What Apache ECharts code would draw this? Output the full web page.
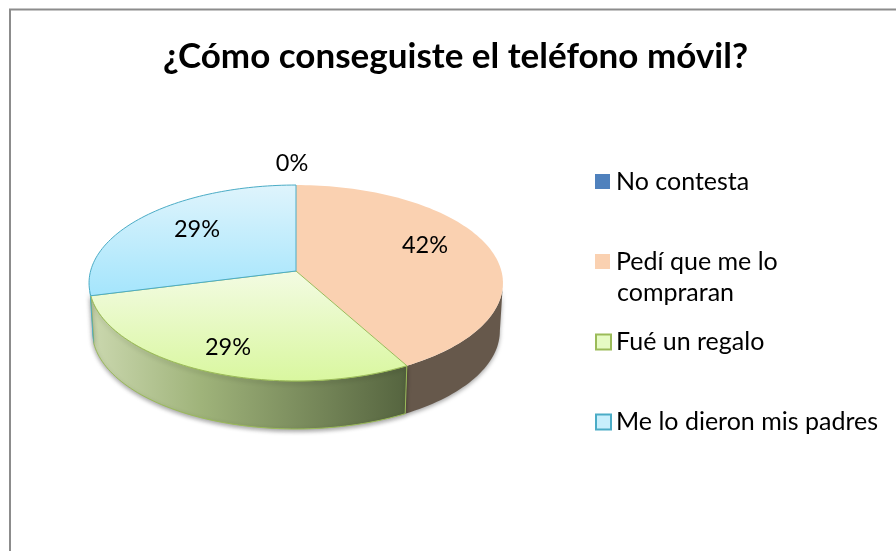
<!DOCTYPE html>
<html>
<head>
<meta charset="utf-8">
<style>html,body{margin:0;padding:0;background:#fff}#c{width:896px;height:551px}</style>
<script src="https://cdn.jsdelivr.net/npm/echarts@6/dist/echarts.min.js"></script>
</head>
<body>
<div id="c"></div>
<script>
// ---- data ----
var titleText = '¿Cómo conseguiste el teléfono móvil?';
var categories = ['No contesta', 'Pedí que me lo compraran', 'Fué un regalo', 'Me lo dieron mis padres'];
var values = [0, 42, 29, 29];
var percentLabels = ['0%', '42%', '29%', '29%'];

// ---- geometry of the tilted disc ----
var APEX = [296, 271], A = 205.4, B = 96.5, K = 0.1224, DEPTH = 48, LOWER = 0.985;
var FONT = 'Lato, Carlito, "Open Sans", sans-serif';
var labelSpots = [[292, 163], [425, 245], [197, 229], [228, 347]];

var fills = [
  {top: '#4f81bd', side: '#4f81bd', stroke: null, sideStroke: null},
  {top: '#fad1b1', side: '#66584b', stroke: null, sideStroke: null},
  {top: {type:'linear',x:0,y:0,x2:0,y2:1,colorStops:[{offset:0,color:'#f3fbe3'},{offset:1,color:'#d9f79f'}]},
   side:{type:'linear',x:0,y:0,x2:1,y2:0,colorStops:[{offset:0,color:'#cbd8af'},{offset:0.35,color:'#9fb37a'},{offset:1,color:'#55643f'}]},
   stroke:'#9bbb59', sideStroke:'#9bbb59'},
  {top: {type:'linear',x:0,y:0,x2:0,y2:1,colorStops:[{offset:0,color:'#dff4fc'},{offset:1,color:'#a4e5fc'}]},
   side:'#4bacc6', stroke:'#4bacc6', sideStroke:null}
];

var total = values.reduce(function (a, b) { return a + b; }, 0);
function project(deg, r) {
  var t = deg * Math.PI / 180, u = r * Math.sin(t), v = r * Math.cos(t), d = 1 + K * v;
  return [APEX[0] + A * u / d, APEX[1] - B * v / d];
}
function lower(p) { return [APEX[0] + (p[0] - APEX[0]) * LOWER, p[1] + DEPTH]; }
function arc(a, b) {
  var n = Math.max(2, Math.ceil(Math.abs(b - a) / 1.5)), pts = [];
  for (var i = 0; i <= n; i++) pts.push(project(a + (b - a) * i / n, 1));
  return pts;
}
var FRONT_A = 97, FRONT_B = 263;

function makeRender(idx) {
  var before = values.slice(0, idx).reduce(function (a, b) { return a + b; }, 0);
  return function (params, api) {
    var val = api.value(0);
    var a0 = before / total * 360, a1 = (before + val) / total * 360;
    var kids = [], f = fills[idx];
    var s0 = Math.max(a0, FRONT_A), s1 = Math.min(a1, FRONT_B);
    if (val > 0 && s1 > s0) {
      var up = arc(s0, s1), low = up.map(lower).reverse();
      kids.push({type:'polygon', z2:1, shape:{points: up.concat(low)},
        style:{fill:f.side, stroke:f.sideStroke, lineWidth:f.sideStroke?1:0,
               shadowColor:'rgba(0,0,0,0.35)', shadowBlur:4, shadowOffsetY:2}});
    }
    if (val > 0) {
      kids.push({type:'polygon', z2:2, shape:{points:[APEX].concat(arc(a0, a1))},
        style:{fill:f.top, stroke:f.stroke, lineWidth:f.stroke?1:0}});
    }
    var spot = labelSpots[idx];
    kids.push({type:'text', z2:5, style:{x:spot[0], y:spot[1], text:percentLabels[idx], fill:'#000',
      font:'23.5px ' + FONT, align:'center', verticalAlign:'middle'}});
    return {type:'group', children:kids};
  };
}

var legendTops = [169, 249, 329.5, 409.5];
var legendTextPad = [1, 1, 0, 0];
var legendIcons = [
  {color:'#4f81bd', borderColor:'#4f81bd', borderWidth:0},
  {color:'#fad1b1', borderColor:'#fad1b1', borderWidth:0},
  {color:'#e6fbc4', borderColor:'#9bbb59', borderWidth:2},
  {color:'#c8effc', borderColor:'#4bacc6', borderWidth:2}
];

var option = {
  animation:false,
  backgroundColor:'#fff',
  title:{text:titleText, left:158, top:34, padding:5,
    textStyle:{fontFamily:FONT, fontWeight:'bold', fontSize:35, color:'#000'}},
  legend: categories.map(function (c, i) {
    return {
      left:595, top:legendTops[i], padding:0, itemWidth:15, itemHeight:15, itemGap:0, selectedMode:false,
      formatter:function (n) { return n === categories[1] ? 'Pedí que me lo' : n; },
      textStyle:{fontFamily:FONT, fontSize:25, color:'#000', padding:[0,0,0,legendTextPad[i]]},
      data:[{name:c, icon:'rect', itemStyle:legendIcons[i]}]
    };
  }),
  graphic:[
    {type:'rect', silent:true, shape:{x:10, y:9.5, width:1000, height:700},
      style:{fill:'none', stroke:'#8c8c8c', lineWidth:2}},
    {type:'text', left:617, top:280, silent:true,
      style:{text:'compraran', font:'25px ' + FONT, fill:'#000'}}
  ],
  series: categories.map(function (c, i) {
    return {type:'custom', name:c, coordinateSystem:'none', clip:false,
      itemStyle:{color:legendIcons[i].color},
      renderItem:makeRender(i), data:[[values[i]]]};
  })
};
var chart = echarts.init(document.getElementById('c'), null, {renderer:'canvas'});
chart.setOption(option);
</script>
</body>
</html>
